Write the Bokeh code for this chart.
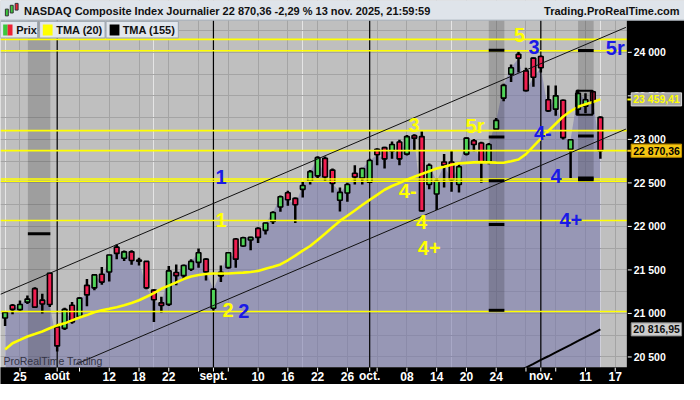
from bokeh.plotting import figure
from bokeh.models import Range1d, FixedTicker, Grid
from bokeh.core.properties import value
from bokeh.embed import file_html
from bokeh.resources import INLINE

# ---------------- data (trading-day index 0 = 23 Jul 2025 ... 80 = 13 Nov 2025)
day = list(range(81))
opens = [20948, 21095, 21044, 21130, 21285, 21153, 21462, 20846, 20828, 21095,
         20963, 21323, 21294, 21451, 21476, 21762, 21635, 21708, 21614, 21598,
         21268, 21122, 21104, 21471, 21434, 21508, 21587, 21624, 21060, 21432,
         21526, 21855, 21775, 21844, 21977, 21955, 22058, 22223, 22387, 22322,
         22426, 22519, 22581, 22782, 22647, 22301, 22384, 22611, 22557, 22509,
         22886, 22905, 22868, 22970, 22831, 23043, 23032, 22482, 22373, 22740,
         22740, 22482, 22831, 22984, 22959, 22740, 23118, 23474, 23749, 23977,
         23787, 23933, 23952, 23456, 23347, 23450, 22886, 23346, 23382, 23548,
         23253]
closes = [21011, 21047, 21102, 21165, 21073, 21109, 21102, 20627, 21047, 20901,
          21176, 21213, 21443, 21360, 21672, 21690, 21708, 21609, 21599, 21294,
          21158, 21092, 21489, 21434, 21551, 21598, 21698, 21478, 21279, 21472,
          21698, 21624, 21870, 21874, 21874, 22039, 22160, 22340, 22307, 22249,
          22470, 22629, 22790, 22567, 22493, 22391, 22482, 22568, 22666, 22757,
          22824, 22776, 22941, 22776, 23032, 23014, 22178, 22703, 22519, 22704,
          22537, 22686, 23014, 22941, 22740, 22941, 23218, 23621, 23823, 23933,
          23560, 23713, 23823, 23328, 23500, 23020, 22996, 23529, 23456, 23437,
          22870.36]
highs = [21020, 21109, 21150, 21205, 21300, 21226, 21469, 20877, 21065, 21131,
         21190, 21396, 21452, 21535, 21674, 21792, 21724, 21726, 21639, 21604,
         21279, 21192, 21544, 21562, 21562, 21624, 21746, 21634, 21282, 21551,
         21704, 21867, 21880, 21880, 21991, 22046, 22175, 22354, 22410, 22333,
         22517, 22647, 22805, 22802, 22665, 22446, 22501, 22703, 22673, 22776,
         22897, 22914, 22977, 22996, 23051, 23058, 23094, 22722, 22556, 22831,
         22868, 22722, 23024, 23004, 22974, 22959, 23247, 23638, 23859, 24006,
         23823, 23941, 23963, 23620, 23620, 23458, 23004, 23570, 23530, 23559,
         23265]
lows = [20857, 20992, 21029, 21109, 21065, 20999, 21073, 20562, 20810, 20883,
        20950, 21084, 21266, 21330, 21366, 21624, 21604, 21559, 21551, 21279,
        20903, 21010, 21086, 21323, 21396, 21489, 21526, 21379, 21034, 21360,
        21514, 21526, 21765, 21726, 21808, 21906, 22028, 22168, 22238, 22040,
        22333, 22482, 22556, 22522, 22391, 22172, 22282, 22482, 22482, 22501,
        22703, 22666, 22776, 22703, 22814, 22868, 22170, 22428, 22189, 22446,
        22399, 22391, 22814, 22864, 22501, 22714, 23106, 23438, 23658, 23768,
        23550, 23604, 23768, 23315, 23272, 23000, 22556, 23290, 23300, 23291,
        22776]
tma20 = [20586, 20658, 20696, 20735, 20763, 20792, 20830, 20863, 20886, 20920,
         20954, 20981, 21014, 21037, 21053, 21072, 21094, 21120, 21152, 21192,
         21234, 21283, 21320, 21357, 21395, 21425, 21441, 21454, 21459, 21459,
         21459, 21465, 21469, 21476, 21489, 21513, 21537, 21563, 21611, 21665,
         21722, 21775, 21844, 21916, 21990, 22063, 22122, 22183, 22246, 22305,
         22362, 22421, 22464, 22499, 22537, 22571, 22603, 22634, 22666, 22686,
         22708, 22724, 22730, 22736, 22739, 22736, 22733, 22732, 22749, 22769,
         22830, 22920, 23008, 23096, 23180, 23263, 23323, 23375, 23403, 23430,
         23459.41]
tma155_day = [69, 70, 71, 72, 73, 74, 75, 76, 77, 78, 79, 80]
tma155 = [20335, 20378, 20421, 20466, 20508, 20552, 20597, 20640, 20684, 20729, 20772, 20816.95]

tick_pos = [2, 7, 10, 14, 18, 22, 26, 28, 30, 34, 38, 42, 46, 49, 50, 54, 58, 62, 66, 70, 72, 74, 78, 82]
tick_lab = ["25", "août", "", "12", "18", "22", "", "sept.", "", "10", "16", "22", "26", "oct.", "",
            "08", "14", "20", "24", "", "nov.", "", "11", "17"]
month_pos = [7, 28, 49, 72]
y_ticks = [20500, 21000, 21500, 22000, 22500, 23000, 23500, 24000]
y_tick_lab = ["20 500", "21 000", "21 500", "22 000", "22 500", "23 000", "23 500", "24 000"]
y_grid = [20500, 20750, 21000, 21250, 21500, 21750, 22000, 22250, 22500, 22750,
          23000, 23250, 23500, 23750, 24000, 24250]

levels = [24149, 24019, 23101, 22870.36, 22544, 22519, 22068, 21022]
chan_up_x = [-0.62, 83.43]
chan_up_y = [21220, 24287]
chan_lo_x = [9.49, 83.43]
chan_lo_y = [20415, 23118]

band_left = [3.06, 65.0, 77.0]
band_right = [6.08, 67.1, 79.1]
band_bottom = [20382, 21036, 22545]
mark_x0 = [3.06, 65.0, 65.0, 65.0, 65.0, 65.0, 77.0, 77.0, 77.0, 77.0]
mark_x1 = [6.08, 67.1, 67.1, 67.1, 67.1, 67.1, 79.1, 79.1, 79.1, 79.1]
mark_y = [21915, 24025, 23026, 22525, 22022, 21036, 24022, 23040, 22555, 22535]
box_l, box_r, box_b, box_t = [76.8], [78.95], [23283], [23559]

wave_x = [69.15, 71.08, 82.0, 29.02, 29.02, 29.98, 32.08, 54.97, 63.16, 72.27, 54.1, 55.98, 74.06, 76.03, 57.0]
wave_y = [24202, 24058, 24052, 22569, 22073, 21041, 21025, 23168, 23154, 23077, 22408, 22051, 22580, 22073, 21757]
wave_t = ["5", "3", "5r", "1", "1", "2", "2", "3", "5r", "4-", "4-", "4", "4", "4+", "4+"]
YEL, BLU = "#ffff00", "#1a1ae6"
wave_c = [YEL, BLU, BLU, BLU, YEL, YEL, BLU, YEL, YEL, BLU, YEL, YEL, BLU, BLU, YEL]

tag_values = [23459.41, 22870.36, 20816.95]
tag_text = ["23 459,41", "22 870,36", "20 816,95"]

# ---------------- layout helpers: reference pixel -> data coordinate
def X(xr):
    return (xr - 4.7) / 7.615

def Y(yr):
    return 24000 - (yr - 54) * 11.03

FONT = "Liberation Sans"
PLOT_R = X(641)
PLOT_T = Y(20.5)
PLOT_B = Y(382)

p = figure(width=684, height=384, x_range=Range1d(X(0), X(700)), y_range=Range1d(Y(400), Y(0)),
           output_backend="svg", toolbar_location=None, title=None,
           x_axis_location=None, y_axis_location=None,
           background_fill_color="#bfbfbf", border_fill_color="black",
           min_border_left=0, min_border_right=0, min_border_top=0, min_border_bottom=0)
p.outline_line_color = None
p.add_layout(Grid(dimension=0, ticker=FixedTicker(ticks=tick_pos), grid_line_color="#a4a4a4"))
p.add_layout(Grid(dimension=1, ticker=FixedTicker(ticks=y_grid), grid_line_color="#a4a4a4"))

# lavender price area
p.varea(x=day, y1=PLOT_B, y2=closes, fill_color="#7676ad", fill_alpha=0.55)
# darker zones
p.quad(left=band_left, right=band_right, bottom=band_bottom, top=[PLOT_T] * 3,
       fill_color="black", fill_alpha=0.17, line_color=None)
# month separators
p.segment(x0=month_pos, x1=month_pos, y0=[PLOT_B] * 4, y1=[PLOT_T] * 4,
          line_color="black", line_width=1.2)

# candles
body_top = [max(o, c) for o, c in zip(opens, closes)]
body_bot = [min(o, c) for o, c in zip(opens, closes)]
body_col = ["#4fd257" if c >= o else "#f01e50" for o, c in zip(opens, closes)]
p.segment(x0=day, x1=day, y0=lows, y1=highs, line_color="black", line_width=2.5)
p.vbar(x=day, width=0.62, top=body_top, bottom=body_bot, fill_color=body_col,
       line_color="black", line_width=1.6)

# horizontal yellow levels
p.segment(x0=[X(0)] * len(levels), x1=[PLOT_R] * len(levels), y0=levels, y1=levels,
          line_color="#ffff00", line_width=1.6)
# trend channel
p.line(chan_up_x, chan_up_y, line_color="#111111", line_width=1)
p.line(chan_lo_x, chan_lo_y, line_color="#111111", line_width=1)
# moving averages
p.line(day, tma20, line_color="#ffff00", line_width=2.6)
p.line(tma155_day, tma155, line_color="black", line_width=2)

# zone markers and box
p.segment(x0=mark_x0, x1=mark_x1, y0=mark_y, y1=mark_y, line_color="black", line_width=3)
p.quad(left=box_l, right=box_r, bottom=box_b, top=box_t, fill_color=None,
       line_color="black", line_width=2)

# wave labels
p.text(x=wave_x, y=wave_y, text=wave_t, text_color=wave_c, text_font=value(FONT),
       text_font_style="bold", text_font_size="20px", text_align="center",
       text_baseline="middle")

# watermark
p.text(x=[X(3)], y=[Y(376)], text=["ProRealTime Trading"], text_font=value(FONT),
       text_font_size="10.5px", text_color="#333344", text_baseline="middle")

# legend row
p.quad(left=[X(0), X(40), X(108)], right=[X(38), X(107), X(182)],
       bottom=[Y(39)] * 3, top=[Y(21.7)] * 3,
       fill_color="#e2e7ed", line_color="#9aa4ae", line_width=1)
p.quad(left=[X(2.7), X(7.3), X(43.3), X(111.7)], right=[X(7.3), X(12.3), X(53.3), X(121.7)],
       bottom=[Y(36.5)] * 4, top=[Y(25)] * 4,
       fill_color=["#3cc83c", "#ee2233", "#ffff00", "black"], line_color=None)
p.text(x=[X(16), X(57), X(125)], y=[Y(30.5)] * 3, text=["Prix", "TMA (20)", "TMA (155)"],
       text_font=value(FONT), text_font_size="11px", text_font_style="bold",
       text_color="#111111", text_baseline="middle")

# ---------------- axes areas (black) with ticks and labels
p.quad(left=[PLOT_R, X(-5)], right=[X(705), X(705)], bottom=[Y(405), Y(405)], top=[PLOT_T, PLOT_B],
       fill_color="black", line_color=None)
p.segment(x0=tick_pos, x1=tick_pos, y0=[Y(382.5)] * len(tick_pos), y1=[Y(386.5)] * len(tick_pos),
          line_color="white", line_width=1)
p.text(x=tick_pos, y=[Y(391.5)] * len(tick_pos), text=tick_lab, text_color="white",
       text_font=value(FONT), text_font_style="bold", text_font_size="12px",
       text_align="center", text_baseline="middle")
p.segment(x0=[X(642)] * len(y_ticks), x1=[X(646)] * len(y_ticks), y0=y_ticks, y1=y_ticks,
          line_color="white", line_width=1)
p.text(x=[X(648)] * len(y_ticks), y=y_ticks, text=y_tick_lab, text_color="white",
       text_font=value(FONT), text_font_style="bold", text_font_size="10.5px",
       text_baseline="middle")

# price tags
tag_fill = ["#a8a8a8", "#f5c512", "#cdcdcd"]
tag_line = ["#d8d8d8", "#c89600", "#8a8a8a"]
tag_fg = ["#ffff00", "black", "#111111"]
half = 6.8 * 11.03
p.quad(left=[X(645.5)] * 3, right=[X(697)] * 3,
       bottom=[v - half for v in tag_values], top=[v + half for v in tag_values],
       fill_color=tag_fill, line_color=tag_line, line_width=1)
p.segment(x0=[X(641.5)] * 2, x1=[X(645.5)] * 2, y0=tag_values[:2], y1=tag_values[:2],
          line_color=["#ffff00", "#f5c512"], line_width=2)
p.text(x=[X(647.5)] * 3, y=tag_values, text=tag_text, text_color=tag_fg,
       text_font=value(FONT), text_font_style="bold", text_font_size="10.5px",
       text_baseline="middle")

# ---------------- title band
p.quad(left=[X(-5)], right=[X(705)], bottom=[PLOT_T], top=[Y(-5)],
       fill_color="#dfe4ea", line_color=None)
p.segment(x0=[X(-5)], x1=[X(705)], y0=[PLOT_T], y1=[PLOT_T], line_color="#a3acb6", line_width=1)
p.quad(left=[X(5), X(10), X(15)], right=[X(8), X(13), X(18)],
       bottom=[Y(16), Y(13), Y(10)], top=[Y(9), Y(5), Y(3)],
       fill_color=["#3cc83c", "#3cc83c", "#ee2233"], line_color="#333333", line_width=1)
p.text(x=[X(24)], y=[Y(11)],
       text=["NASDAQ Composite Index Journalier 22 870,36 -2,29 % 13 nov. 2025, 21:59:59"],
       text_font=value(FONT), text_font_size="11px", text_font_style="bold",
       text_color="#111111", text_baseline="middle")
p.text(x=[X(695)], y=[Y(11)], text=["Trading.ProRealTime.com"], text_font=value(FONT),
       text_font_size="11px", text_font_style="bold", text_color="#111111",
       text_baseline="middle", text_align="right")

open("out.html", "w").write(file_html(p, INLINE))
